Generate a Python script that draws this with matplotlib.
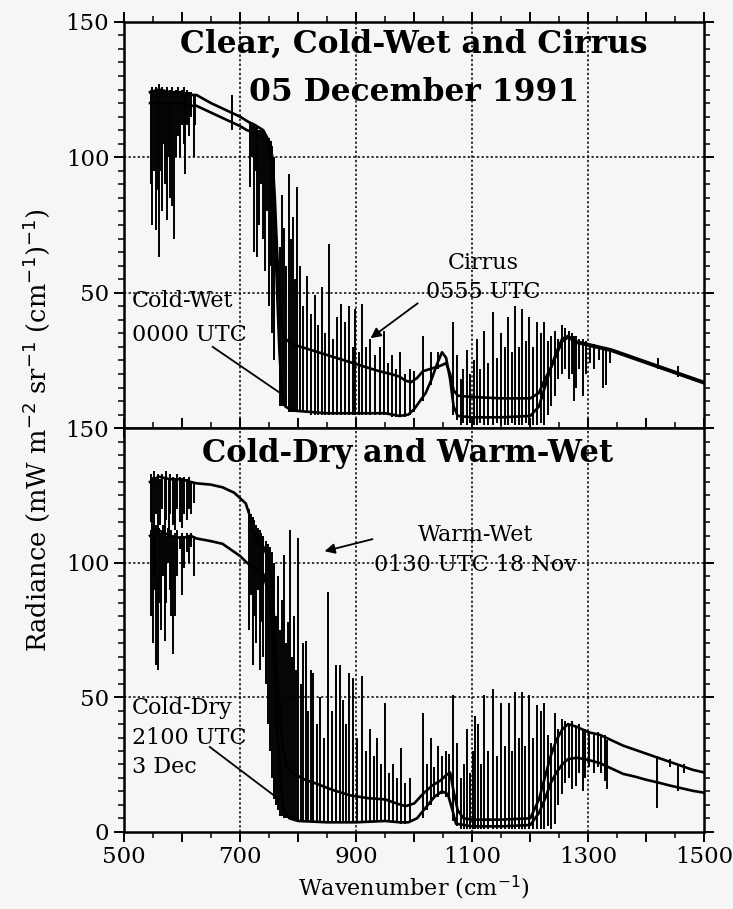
import matplotlib
matplotlib.use("Agg")
import matplotlib.pyplot as plt
from matplotlib.ticker import MultipleLocator, FuncFormatter

plt.rcParams['font.family'] = ['DejaVu Serif']

# ---- top panel: Cirrus (upper) and Cold-Wet (lower) smooth parts
cirrus_wn = [545, 560, 580, 600, 615, 625, 650, 680, 700, 715, 725, 740, 750, 756, 760, 764, 768, 772,
             778, 790, 820, 850, 880, 910, 940, 960, 975, 985, 995, 1005, 1015, 1030, 1045, 1055, 1062,
             1068, 1075, 1100, 1150, 1200, 1215, 1225, 1235, 1245, 1255, 1265, 1280, 1300, 1320, 1340,
             1360, 1380, 1400, 1420, 1440, 1460, 1480, 1500]
cirrus_rad = [124, 125, 124, 124, 123, 123, 120, 117, 115, 113, 112, 110, 106, 100, 85, 65, 48, 38,
              33, 31, 29, 27, 25, 23, 21, 20, 19, 17.5, 17, 18.5, 21, 22, 23, 24, 20,
              14, 12, 11.5, 11, 11, 13, 18, 22, 28, 33, 34, 32, 31, 30, 29,
              27.5, 26, 24.5, 23, 21.5, 20, 18.5, 17]

coldwet_wn = [545, 600, 615, 625, 650, 680, 700, 712, 725, 740, 750, 756, 760, 764, 768, 772, 778, 790,
              820, 850, 900, 950, 975, 990, 1000, 1010, 1020, 1030, 1040, 1048, 1055, 1062, 1068, 1075,
              1100, 1150, 1200, 1215, 1225, 1235, 1245, 1255, 1265, 1280, 1300, 1320, 1340, 1360, 1380,
              1400, 1420, 1440, 1460, 1480, 1500]
coldwet_rad = [120, 120, 119, 119, 116.5, 113.5, 111.5, 110, 109, 107, 104, 96, 75, 50, 28, 14, 8, 6.5,
               6, 5.5, 5.5, 5.5, 4.5, 5, 7, 10, 13, 18, 24, 28, 26, 18, 8, 4.5,
               4, 4, 4.5, 8, 15, 22, 27, 32, 33.5, 31.5, 30.5, 29.5, 28.5, 27, 25.5,
               24, 22.5, 21, 19.5, 18, 16.5]

# top panel line features: wavenumber, low end, high end
top_line_wn = [546, 549, 552, 555, 557, 560, 563, 565, 568, 571, 574, 577, 580, 583, 587, 590, 593, 597,
               600, 603, 605, 609, 612, 616, 620, 623, 686,
               717, 720, 724, 728, 729, 732, 736, 740, 743, 747, 750, 753, 756, 759,
               769, 772, 776, 779, 784, 788, 791, 795, 798, 803, 808, 815, 822, 829, 835, 841, 847,
               853, 860, 867, 874, 881, 888, 894, 898, 905, 910, 917, 924, 933, 941, 948, 955, 962,
               969, 976, 985, 993, 1000, 1015, 1029, 1041, 1067, 1074,
               1080, 1085, 1091, 1097, 1103, 1108, 1114, 1121, 1128, 1136, 1143, 1150, 1157, 1162,
               1168, 1174, 1180, 1186, 1192, 1197, 1204, 1212, 1218, 1224, 1230, 1236, 1243, 1248,
               1254, 1260, 1266, 1272, 1275, 1278, 1284, 1290, 1296, 1303, 1310, 1318, 1326, 1330,
               1338, 1420, 1455]
top_line_lo = [90, 75, 95, 73, 88, 63, 95, 80, 105, 90, 77, 100, 85, 82, 70, 100, 108, 100,
               112, 105, 94, 112, 108, 115, 100, 112, 110,
               89, 100, 65, 95, 63, 75, 90, 70, 58, 80, 45, 60, 35, 25,
               8, 8, 8, 8, 6, 6, 6, 6, 6, 6, 6, 6, 5, 5, 5, 5, 5,
               5, 5, 5, 5, 5, 5, 5, 5, 5, 5, 5, 5, 5, 5, 5, 5, 4,
               4, 4, 4, 5, 6, 10, 16, 22, 5, 3,
               1, 2, 1, 2, 1, 1, 2, 1, 1, 1, 2, 1, 1, 1,
               2, 1, 1, 1, 2, 1, 1, 1, 2, 1, 5, 8, 12, 18,
               20, 22, 18, 20, 10, 15, 22, 12, 20, 24, 22, 25, 15, 16,
               24, 22, 19]
top_line_hi = [125, 126, 124, 126, 125, 127, 125, 126, 124, 125, 126, 124, 125, 126, 124, 125, 126, 124,
               125, 126, 124, 125, 124, 124, 123, 123, 123,
               113, 112, 112, 111, 111, 110, 110, 110, 109, 108, 107, 106, 104, 100,
               67, 86, 74, 60, 94, 70, 78, 55, 89, 60, 45, 56, 42, 49, 38, 52, 35,
               68, 33, 41, 46, 39, 45, 30, 44, 28, 46, 30, 33, 27, 30, 36, 24, 27,
               22, 28, 20, 22, 21, 34, 28, 28, 39, 27,
               18, 22, 29, 20, 25, 33, 22, 36, 24, 43, 26, 35, 30, 41,
               28, 45, 30, 44, 32, 41, 30, 39, 35, 39, 32, 34, 36, 33,
               38, 37, 36, 35, 34, 34, 33, 33, 32, 31, 31, 30, 30, 29,
               29, 26, 23]

# ---- bottom panel: Warm-Wet (upper) and Cold-Dry (lower) smooth parts
warmwet_wn = [545, 560, 580, 600, 615, 625, 650, 670, 690, 700, 710, 716, 722, 730, 740, 748, 755, 760,
              765, 770, 775, 780, 790, 810, 830, 860, 890, 920, 950, 970, 985, 1000, 1015, 1030, 1045,
              1055, 1062, 1068, 1075, 1085, 1100, 1150, 1200, 1215, 1225, 1235, 1245, 1255, 1265, 1280,
              1300, 1320, 1340, 1360, 1380, 1400, 1420, 1440, 1460, 1480, 1500]
warmwet_rad = [130, 132, 131, 131, 130, 129.5, 129, 128, 126, 124, 122, 118, 112, 108, 106, 102, 92, 75,
               55, 40, 30, 25, 22, 19.5, 18, 15.5, 13.5, 12.5, 12, 10.5, 9.5, 10.5, 14, 17, 19,
               21, 22, 15, 8, 5, 4.5, 4.5, 5, 12, 20, 28, 34, 38, 40, 39,
               37, 36, 34, 32, 30.5, 29, 27.5, 26, 24.5, 23, 22]

colddry_wn = [545, 560, 580, 600, 615, 625, 650, 670, 690, 700, 712, 725, 740, 750, 756, 760, 765, 770,
              775, 785, 800, 850, 900, 950, 975, 990, 1005, 1020, 1035, 1048, 1058, 1066, 1072, 1100,
              1150, 1200, 1215, 1225, 1235, 1245, 1255, 1265, 1280, 1300, 1320, 1340, 1360, 1380, 1400,
              1420, 1440, 1460, 1480, 1500]
colddry_rad = [110, 112, 110, 109, 110, 109, 108, 107, 104, 102.5, 100, 98, 96, 88, 75, 55, 35, 18,
               8, 5, 4, 3.5, 3.5, 4, 3.5, 3.5, 5, 9, 13, 15, 14, 8, 3, 2,
               2, 2.5, 7, 12, 18, 22, 25, 27, 27.5, 26.7, 25.5, 23.5, 21.5, 20.5, 19.3,
               18.3, 17.2, 16.2, 15.2, 14.5]

bot_line_wn = [546, 549, 552, 556, 559, 563, 566, 570, 573, 577, 580, 584, 588, 592, 596, 600, 604, 608,
               612, 616, 620,
               547, 550, 553, 555, 558, 561, 564, 567, 570, 573, 576, 579, 582, 585, 588, 592, 596, 600,
               604, 608, 612, 616, 620,
               716, 719, 722, 725, 728, 731, 734, 737, 740, 744, 748, 752, 756, 759,
               762, 766, 769, 772, 776, 780, 783, 786, 790, 793, 797, 800, 805, 809, 813, 818, 822,
               826, 832, 838, 845, 852, 859, 866, 872, 877, 883, 888, 895, 902, 910, 917, 924, 931,
               936, 943, 950, 957, 964, 970, 977, 985, 993,
               1015, 1022, 1029, 1035, 1041, 1048, 1055, 1060, 1067, 1074,
               1080, 1086, 1091, 1097, 1102, 1105, 1110, 1115, 1121, 1128, 1136, 1143, 1150, 1157,
               1164, 1169, 1174, 1180, 1186, 1191, 1197, 1204, 1212, 1218, 1224, 1230, 1236, 1243,
               1248, 1254, 1260, 1266, 1272, 1278, 1284, 1290, 1295, 1302, 1310, 1316, 1322, 1329,
               1333, 1419, 1440, 1455, 1465]
bot_line_lo = [115, 112, 95, 118, 110, 114, 120, 112, 116, 110, 118, 114, 112, 120, 115, 113, 118, 116,
               120, 118, 122,
               80, 70, 90, 62, 60, 85, 75, 95, 71, 85, 100, 90, 80, 66, 80, 95, 105, 88,
               98, 104, 100, 106, 95,
               75, 88, 62, 80, 70, 90, 60, 78, 65, 55, 40, 30, 20, 12,
               10, 8, 6, 6, 5, 5, 5, 5, 5, 4, 4, 4, 4, 4, 4, 4, 4,
               4, 4, 4, 4, 4, 4, 4, 4, 4, 4, 4, 4, 4, 4, 4, 4, 4,
               4, 4, 4, 4, 4, 4, 3, 3, 4,
               5, 8, 10, 12, 13, 14, 13, 12, 4, 2,
               1, 1, 1, 1, 1, 1, 1, 1, 1, 1, 1, 1, 1, 1,
               1, 1, 1, 1, 1, 1, 1, 1, 1, 1, 1, 2, 1, 3,
               10, 14, 18, 20, 16, 17, 22, 15, 20, 24, 22, 24, 22, 19,
               16, 9, 24, 15, 22]
bot_line_hi = [133, 132, 134, 132, 133, 131, 133, 132, 134, 131, 133, 132, 131, 133, 132, 131, 132, 131,
               132, 130, 130,
               112, 113, 111, 114, 112, 113, 111, 114, 112, 110, 113, 111, 112, 110, 111, 112, 110, 111,
               110, 111, 110, 111, 110,
               120, 118, 117, 116, 114, 113, 112, 111, 110, 108, 107, 106, 104, 100,
               80, 95, 75, 86, 103, 70, 78, 112, 65, 80, 60, 109, 55, 70, 71, 45, 60,
               59, 40, 50, 35, 89, 45, 62, 62, 49, 40, 59, 57, 35, 58, 30, 38, 28,
               35, 25, 48, 22, 25, 20, 31, 18, 20,
               44, 25, 35, 24, 32, 28, 30, 29, 51, 33,
               20, 25, 38, 22, 30, 43, 40, 25, 51, 30, 53, 28, 48, 32,
               48, 30, 52, 35, 52, 32, 51, 35, 47, 45, 48, 36, 33, 44,
               38, 42, 41, 40, 41, 39, 40, 38, 38, 37, 36, 37, 36, 36,
               34, 28, 27, 25, 25]

fig = plt.figure(figsize=(7.33, 9.09), dpi=100)
fig.patch.set_facecolor('#f6f6f6')
ax1 = fig.add_axes([0.169, 0.529, 0.792, 0.447])
ax2 = fig.add_axes([0.169, 0.085, 0.792, 0.444], sharex=ax1)

for ax in (ax1, ax2):
    ax.set_facecolor('#f6f6f6')
    ax.set_xlim(500, 1500)
    ax.set_ylim(0, 150)
    ax.xaxis.set_major_locator(MultipleLocator(100))
    ax.xaxis.set_minor_locator(MultipleLocator(50))
    ax.yaxis.set_major_locator(MultipleLocator(50))
    ax.yaxis.set_minor_locator(MultipleLocator(5))
    ax.tick_params(which='both', direction='out', top=True, right=True, colors='black', labelsize=16.5)
    ax.tick_params(which='major', length=7, width=1.4)
    ax.tick_params(which='minor', length=4, width=1.1)
    for s in ax.spines.values():
        s.set_linewidth(1.8)
    for g in (700, 900, 1100, 1300):
        ax.axvline(g, color='black', ls=(0, (1.5, 1.5)), lw=1.1, zorder=1)
    for g in (50, 100):
        ax.axhline(g, color='black', ls=(0, (1.5, 1.5)), lw=1.1, zorder=1)

ax1.tick_params(labelbottom=False)
ax1.yaxis.set_major_formatter(FuncFormatter(lambda v, p: '' if v == 0 else '%d' % v))
ax2.xaxis.set_major_formatter(FuncFormatter(lambda v, p: '%d' % v if (v - 500) % 200 == 0 else ''))

ax1.plot(cirrus_wn, cirrus_rad, color='black', lw=1.9, zorder=3)
ax1.plot(coldwet_wn, coldwet_rad, color='black', lw=1.9, zorder=3)
ax1.vlines(top_line_wn, top_line_lo, top_line_hi, color='black', lw=1.4, zorder=3)

ax2.plot(warmwet_wn, warmwet_rad, color='black', lw=1.9, zorder=3)
ax2.plot(colddry_wn, colddry_rad, color='black', lw=1.9, zorder=3)
ax2.vlines(bot_line_wn, bot_line_lo, bot_line_hi, color='black', lw=1.4, zorder=3)

# titles inside panels
ax1.text(1000, 132.8, 'Clear, Cold-Wet and Cirrus\n05 December 1991', ha='center', va='center',
         fontsize=22.5, fontweight='bold', linespacing=1.75, zorder=4)
ax2.text(988, 140.5, 'Cold-Dry and Warm-Wet', ha='center', va='center',
         fontsize=22, fontweight='bold', zorder=4)

# annotations
ax1.text(1119, 55.5, 'Cirrus\n0555 UTC', ha='center', va='center', fontsize=16, linespacing=1.4, zorder=4)
ax1.annotate('', xy=(921, 32.6), xytext=(1010, 46.7),
             arrowprops=dict(arrowstyle='-|>', color='black', lw=1.3, mutation_scale=15))
ax1.text(514, 40.5, 'Cold-Wet\n0000 UTC', ha='left', va='center', fontsize=16, linespacing=1.7, zorder=4)
ax1.plot([653, 769], [30, 13], color='black', lw=1.3, zorder=4)

ax2.text(1105, 104.8, 'Warm-Wet\n0130 UTC 18 Nov', ha='center', va='center', fontsize=16,
         linespacing=1.5, zorder=4)
ax2.annotate('', xy=(841, 104), xytext=(933, 109),
             arrowprops=dict(arrowstyle='-|>', color='black', lw=1.3, mutation_scale=15))
ax2.text(514, 35, 'Cold-Dry\n2100 UTC\n3 Dec', ha='left', va='center', fontsize=16,
         linespacing=1.45, zorder=4)
ax2.plot([648, 764], [31.5, 12.6], color='black', lw=1.3, zorder=4)

ax2.set_xlabel('Wavenumber (cm$^{-1}$)', fontsize=16, labelpad=4)
fig.text(0.05, 0.527, 'Radiance (mW m$^{-2}$ sr$^{-1}$ (cm$^{-1}$)$^{-1}$)', rotation=90,
         ha='center', va='center', fontsize=18.5)

fig.savefig('out.png', dpi=100, facecolor=fig.get_facecolor())
